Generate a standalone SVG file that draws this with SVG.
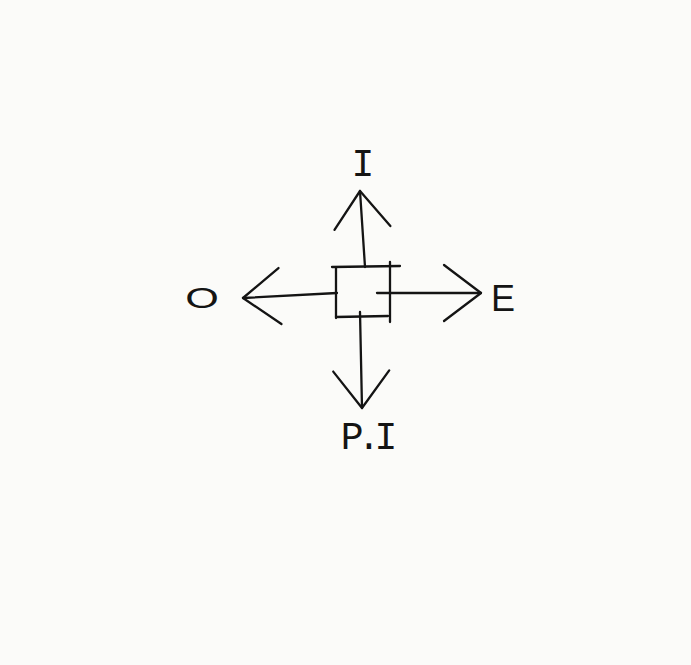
<svg xmlns="http://www.w3.org/2000/svg" width="691" height="665" viewBox="0 0 691 665">
<style>
.ln{fill:none;stroke:#141414;stroke-width:2.3;stroke-linecap:round;stroke-linejoin:round}
.lbl{font-family:"Liberation Mono",monospace;font-size:38px;fill:#141414;text-anchor:middle}
.sans{font-family:"Liberation Sans",sans-serif;font-size:36px;fill:#141414;text-anchor:middle}
</style>
<defs>
<marker id="v" markerUnits="userSpaceOnUse" markerWidth="90" markerHeight="90" refX="0" refY="0" viewBox="-45 -45 90 90" orient="auto" overflow="visible">
<path d="M-37,-28 L0,0 L-37,28" fill="none" stroke="#141414" stroke-width="2.3" stroke-linecap="round" stroke-linejoin="round"/>
</marker>
</defs>
<rect width="691" height="665" fill="#fbfbf9"/>
<g id="connectors">
<path class="ln" d="M365,267 L360,191" marker-end="url(#v)"/>
<path class="ln" d="M337,293 L243,298" marker-end="url(#v)"/>
<path class="ln" d="M377,293 L481,293" marker-end="url(#v)"/>
<path class="ln" d="M360,312 L362,408" marker-end="url(#v)"/>
</g>
<g id="box">
<path class="ln" d="M332,267 L400,266"/>
<path class="ln" d="M336,268 L336,318"/>
<path class="ln" d="M336,317 L388,316"/>
<path class="ln" d="M390,262 L390,322"/>
</g>
<g id="node-I"><text class="lbl" x="363" y="176">I</text></g>
<g id="node-O"><text class="sans" x="0" y="0" transform="translate(202,308) scale(1.2,0.8)">O</text></g>
<g id="node-E"><text class="sans" x="503" y="311">E</text></g>
<g id="node-PI"><text class="lbl" x="366" y="449" letter-spacing="-6">P.I</text></g>
</svg>
